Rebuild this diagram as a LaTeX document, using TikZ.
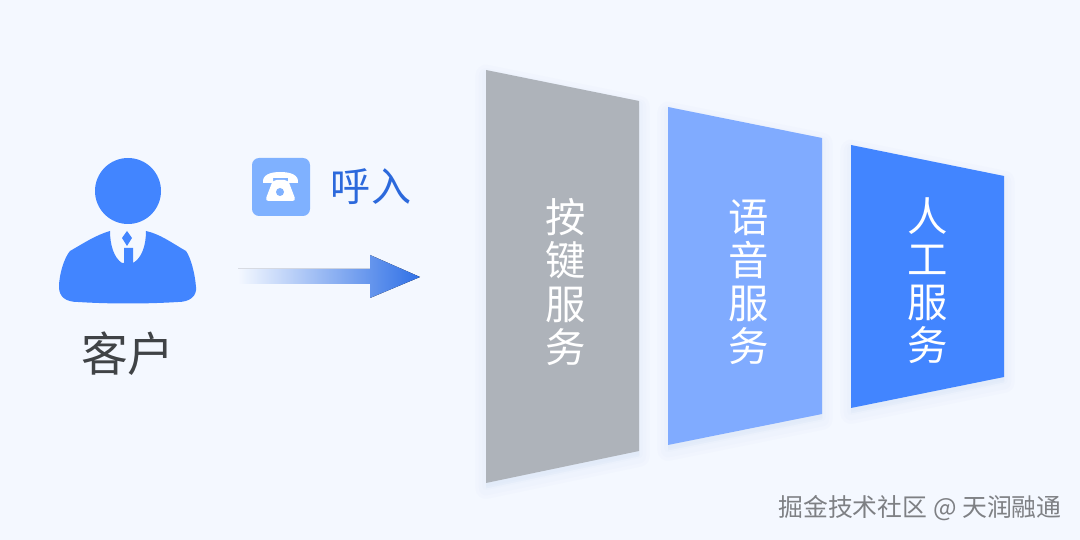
\documentclass[tikz,border=0pt]{standalone}
\usepackage{fontspec}
\setmainfont{Noto Sans CJK SC}
\definecolor{PageBlue}{HTML}{F4F8FF}
\definecolor{BrandBlue}{HTML}{4285FF}
\definecolor{LightBlue}{HTML}{80ABFF}
\definecolor{IconBlue}{HTML}{7FB1FF}
\definecolor{CallBlue}{HTML}{2C69DC}
\definecolor{ArrowBlue}{HTML}{2F70E6}
\definecolor{KeyGray}{HTML}{AEB3BA}
\definecolor{GlowBlue}{HTML}{A9C2EE}
\definecolor{InkGray}{HTML}{404346}
\definecolor{MarkGray}{HTML}{7E8084}
\tikzset{
  paneltext/.style={text=white, align=center, inner sep=0pt, font=\fontsize{23}{24.5}\selectfont},
  glow/.style={draw=GlowBlue, fill=GlowBlue, line join=round, opacity=0.04},
  personfill/.style={fill=BrandBlue, draw=none},
  callarrow/.style={draw=none, left color=PageBlue, right color=ArrowBlue}
}
% soft edge under a panel, then the panel
\newcommand{\drawpanel}[2]{
  \draw[glow, line width=12pt, yshift=-3pt] #2 -- cycle;
  \draw[glow, line width=8pt, yshift=-3pt] #2 -- cycle;
  \draw[glow, line width=4pt, yshift=-2pt] #2 -- cycle;
  \fill[#1] #2 -- cycle;
}
\begin{document}
\begin{tikzpicture}[x=0.02cm, y=-0.02cm]
  \fill[PageBlue] (0,0) rectangle (1080,540);
  \useasboundingbox (0,0) rectangle (1080,540);

  % customer
  \fill[personfill] (128,191) circle (33);
  \fill[personfill] (110,231) .. controls (96,235) and (84,243) .. (70,251)
    .. controls (64,258) and (59,275) .. (59,287)
    .. controls (59,297) and (66,302) .. (78,302)
    .. controls (110,304) and (146,304) .. (178,302)
    .. controls (190,302) and (197,296) .. (196,287)
    .. controls (195,274) and (191,258) .. (186,251)
    .. controls (172,243) and (160,234) .. (146,231)
    .. controls (146,245) and (142,258) .. (133,263)
    -- (133,248) -- (124,248) -- (124,263) -- (122,263)
    .. controls (114,258) and (110,245) .. (110,231) -- cycle;
  \fill[personfill] (127,231) -- (132,238) -- (127,246) -- (122,238) -- cycle;
  \node[inner sep=0pt, text=InkGray, font=\fontsize{26.6}{28}\selectfont] (customer) at (128,354) {客户};

  % call in
  \fill[IconBlue, rounded corners=4pt] (252,158) rectangle (310,216);
  \fill[white] (263,183) .. controls (262,175) and (270,172) .. (280,172)
    .. controls (291,172) and (299,175) .. (298,183)
    -- (288,183) -- (288,178) -- (273,178) -- (273,183) -- cycle;
  \fill[white, rounded corners=2pt] (273,180) -- (288,180) -- (296,201) -- (265,201) -- cycle;
  \fill[IconBlue] (280,192) circle (4);
  \node[inner sep=0pt, text=CallBlue, font=\fontsize{22.8}{26}\selectfont] (callin) at (371,187) {呼入};
  \fill[callarrow] (238,269) -- (370,269) -- (370,255) -- (420,277) -- (370,298) -- (370,284) -- (238,284) -- cycle;

  % service panels
  \drawpanel{KeyGray}{(486,70) -- (639,101) -- (639,451) -- (486,483)}
  \drawpanel{LightBlue}{(668,107) -- (822,138) -- (822,414) -- (668,445)}
  \drawpanel{BrandBlue}{(851,145) -- (1004,176) -- (1004,377) -- (851,408)}
  \node[paneltext] (keypad) at (566,282) {按\\键\\服\\务};
  \node[paneltext] (voice) at (749,282) {语\\音\\服\\务};
  \node[paneltext] (agent) at (928,281) {人\\工\\服\\务};

  \node[inner sep=0pt, text=MarkGray, font=\fontsize{14.15}{16}\selectfont] (mark) at (920,508) {掘金技术社区 @ 天润融通};
\end{tikzpicture}
\end{document}
